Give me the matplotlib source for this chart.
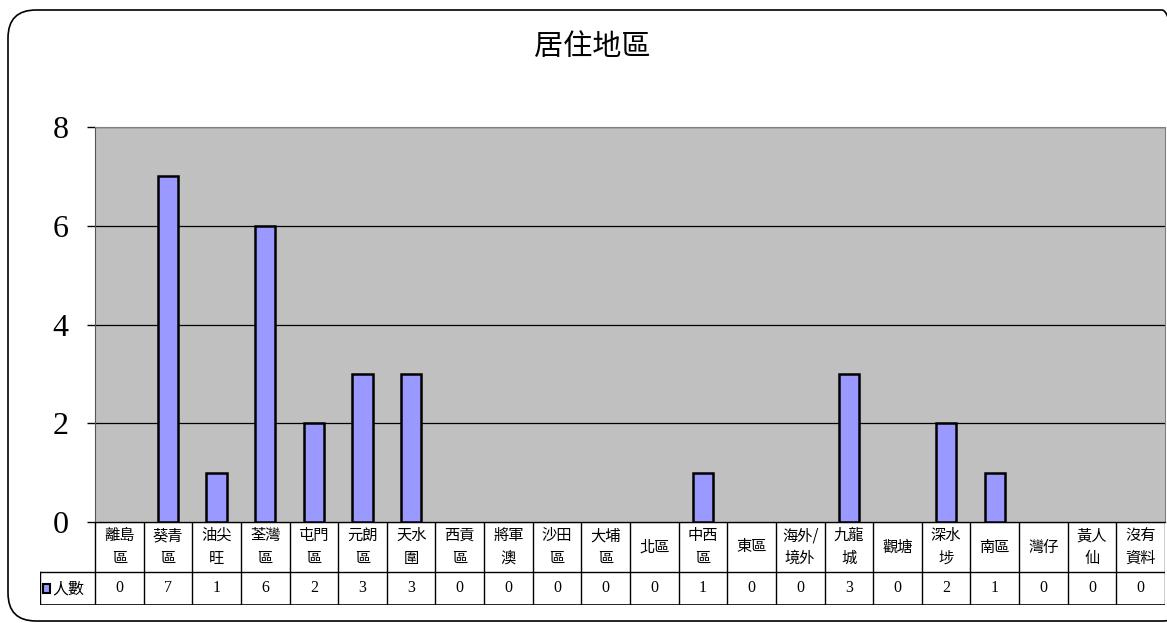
import matplotlib.pyplot as plt
from matplotlib.patches import FancyBboxPatch, Rectangle

plt.rcParams['font.family'] = ['Noto Sans CJK TC', 'DejaVu Sans']

title = '居住地區'
series_name = '人數'
districts = ['離島\n區', '葵青\n區', '油尖\n旺', '荃灣\n區', '屯門\n區', '元朗\n區', '天水\n圍',
             '西貢\n區', '將軍\n澳', '沙田\n區', '大埔\n區', '北區', '中西\n區', '東區',
             '海外/\n境外', '九龍\n城', '觀塘', '深水\n埗', '南區', '灣仔', '黃人\n仙', '沒有\n資料']
counts = [0, 7, 1, 6, 2, 3, 3, 0, 0, 0, 0, 0, 1, 0, 0, 3, 0, 2, 1, 0, 0, 0]
yticks = [0, 2, 4, 6, 8]

W, H = 1167, 623
fig = plt.figure(figsize=(W / 100, H / 100), dpi=100)

# rounded frame around the chart (pixel coords)
frame = FancyBboxPatch((8, 2), 1182, 611, boxstyle='round,pad=0,rounding_size=28',
                       transform=None, fill=False, edgecolor='black', linewidth=1.2)
fig.patches.append(frame)

x0, x1 = 95, 1165
ax = fig.add_axes([x0 / W, 1 - 522 / H, (x1 - x0) / W, (522 - 127) / H])
n = len(districts)
xs = list(range(n))
ax.set_facecolor('#C0C0C0')
ax.bar(xs, counts, width=0.42, color='#9999FF', edgecolor='black',
       linewidth=[1.8 if c > 0 else 0 for c in counts], zorder=3)
ax.set_xlim(-0.5, n - 0.5)
ax.set_ylim(0, 8)
ax.set_yticks(yticks)
ax.set_yticklabels([str(t) for t in yticks], fontfamily='Liberation Serif', fontsize=23)
ax.tick_params(axis='y', direction='out', length=6, width=1, pad=13)
ax.set_xticks([])
ax.grid(axis='y', color='black', linewidth=0.9, zorder=1)
for s in ['top', 'right']:
    ax.spines[s].set_color('#808080')
ax.spines['left'].set_color('#555555')
ax.spines['bottom'].set_color('black')
fig.text(592 / W, 1 - 47 / H, title, ha='center', va='center', fontsize=21)

# data table below the axis
tx0 = 40
unit = (x1 - x0) / n
left_lim = -0.5 - (x0 - tx0) / unit
tab = fig.add_axes([tx0 / W, 1 - 605 / H, (x1 - tx0) / W, (605 - 522) / H])
tab.set_xlim(left_lim, n - 0.5)
tab.set_ylim(0, 83)
tab.axis('off')
split = 33
lc = 'black'
tab.plot([-0.5, n - 0.5], [83, 83], color=lc, lw=1)
tab.plot([left_lim, n - 0.5], [split, split], color=lc, lw=1)
tab.plot([left_lim, n - 0.5], [0, 0], color=lc, lw=1.2)
tab.plot([left_lim, left_lim], [0, split], color=lc, lw=1)
for i in range(n + 1):
    tab.plot([i - 0.5, i - 0.5], [0, 83], color=lc, lw=1)
for i, (d, c) in enumerate(zip(districts, counts)):
    tab.text(i, (83 + split) / 2, d, ha='center', va='center', fontsize=11, linespacing=1.45)
    tab.text(i, split / 2, str(c), ha='center', va='center', fontsize=11.5,
             fontfamily='Liberation Serif')
tab.add_patch(Rectangle((left_lim + 0.06, split / 2 - 4.5), 0.14, 9, facecolor='#9999FF',
                        edgecolor='black', linewidth=1.5, clip_on=False))
tab.text(left_lim + 0.26, split / 2, series_name, ha='left', va='center', fontsize=11.5)

fig.savefig('out.png', dpi=100)
